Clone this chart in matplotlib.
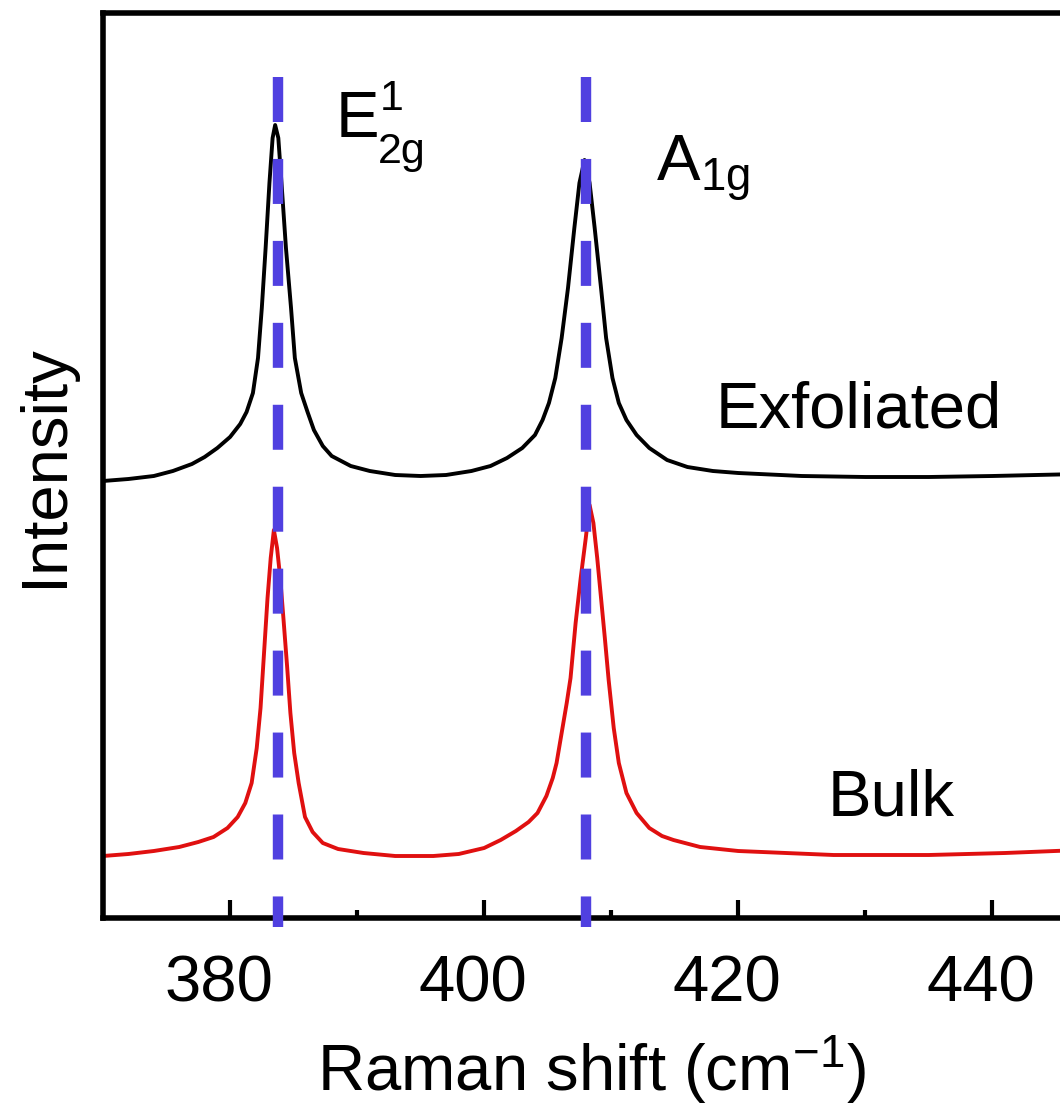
import matplotlib
matplotlib.use("Agg")
import matplotlib.pyplot as plt
import matplotlib.transforms as mtransforms

plt.rcParams["font.family"] = ["Liberation Sans", "DejaVu Sans"]
plt.rcParams["mathtext.fontset"] = "custom"
plt.rcParams["mathtext.rm"] = "Liberation Sans"
plt.rcParams["mathtext.default"] = "regular"
plt.rcParams["font.size"] = 47
plt.rcParams["lines.scale_dashes"] = False

# Exfoliated spectrum (black)
exf_shift = [370.0, 372.0, 374.0, 375.5, 377.0, 378.0, 379.0, 380.0, 380.8,
             381.3, 381.8, 382.2, 382.5, 382.8, 383.1, 383.35, 383.55, 383.8,
             384.05, 384.4, 384.8, 385.1, 385.6, 386.1, 386.6, 387.3, 388.0,
             389.5, 391.0, 393.0, 395.0, 397.0, 399.0, 400.5, 401.8, 403.0,
             404.0, 404.6, 405.1, 405.6, 406.1, 406.6, 407.1, 407.5, 407.9,
             408.3, 408.7, 409.2, 409.6, 410.1, 410.6, 411.2, 412.0, 413.0,
             414.4, 416.0, 418.0, 420.0, 425.0, 430.0, 435.0, 440.0, 446.9]
exf_int = [437, 439, 442, 447, 454, 461, 470, 481, 494,
           506, 525, 560, 610, 670, 735, 780, 793, 780,
           735, 670, 610, 560, 525, 506, 488, 472, 462,
           452, 447, 443, 442, 443, 447, 452, 460, 470,
           483, 498, 515, 540, 580, 630, 690, 735, 758,
           735, 690, 630, 580, 540, 515, 498, 483, 470,
           458, 451, 447, 445, 442, 441, 441, 442, 444]

# Bulk spectrum (red)
bulk_shift = [370.0, 372.0, 374.0, 376.0, 377.5, 378.7, 379.8, 380.6, 381.2,
              381.7, 382.1, 382.4, 382.7, 382.95, 383.2, 383.45, 383.7, 383.95,
              384.2, 384.5, 384.75, 385.05, 385.4, 385.9, 386.5, 387.3, 388.5,
              390.5, 393.0, 396.0, 398.0, 400.0, 401.3, 402.5, 403.5, 404.2,
              404.9, 405.4, 405.7, 406.1, 406.5, 406.8, 407.2, 407.6, 408.0,
              408.3, 408.6, 408.9, 409.2, 409.5, 409.8, 410.2, 410.6, 411.2,
              412.0, 413.0, 414.0, 414.9, 417.0, 420.0, 427.5, 435.0, 441.0,
              446.9]
bulk_int = [62, 64, 67, 71, 76, 81, 90, 101, 115,
            135, 170, 210, 270, 320, 360, 388, 370, 340,
            300, 250, 205, 165, 135, 101, 86, 75, 69,
            65, 62, 62, 64, 70, 78, 87, 96, 105,
            122, 140, 155, 185, 215, 240, 295, 340, 380,
            413, 395, 360, 320, 280, 238, 190, 155, 125,
            105, 90, 82, 78, 71, 67, 63, 63, 65,
            68]

# Phonon mode positions (dashed guides)
mode_pos = [383.8, 408.0]

W, H = 1060, 1105
fig = plt.figure(figsize=(W / 100, H / 100), dpi=100)
ax = fig.add_axes([103 / W, 1 - 918 / H, (1080 - 103) / W, (918 - 13) / H])

ax.plot(exf_shift, exf_int, color="black", linewidth=2.8, zorder=2)
ax.plot(bulk_shift, bulk_int, color="#e01010", linewidth=2.8, zorder=2)

trans = mtransforms.blended_transform_factory(ax.transData, ax.transAxes)
for x in mode_pos:
    ax.plot([x, x], [0.929, -0.01], transform=trans, color="#5040e0",
            linewidth=7.5, dashes=(32.4, 26.6), dash_capstyle="butt",
            clip_on=False, zorder=3)

# mode labels: E with stacked super/subscript, A with subscript
ax.text(388.3, 781, "E", ha="left", va="baseline")
ax.text(391.8, 808, "1", ha="left", va="baseline", fontsize=31)
ax.text(391.6, 755, "2g", ha="left", va="baseline", fontsize=31)
ax.text(413.5, 736, r"A$_{1g}$", ha="left", va="baseline")

ax.text(429.5, 490, "Exfoliated", ha="center", va="baseline")
ax.text(432.0, 103, "Bulk", ha="center", va="baseline")

ax.set_xlim(370, 446.9)
ax.set_ylim(0, 905)
ax.set_xticks([380, 400, 420, 440])
ax.set_xticks([390, 410, 430], minor=True)
ax.set_yticks([])
ax.tick_params(axis="x", which="major", direction="in", length=13, width=3, pad=26)
ax.tick_params(axis="x", which="minor", direction="in", length=6, width=3)
shift = mtransforms.ScaledTranslation(-11 / 100, 0, fig.dpi_scale_trans)
for lbl in ax.get_xticklabels():
    lbl.set_transform(lbl.get_transform() + shift)
for s in ax.spines.values():
    s.set_linewidth(4)

ax.set_xlabel(r"Raman shift (cm$^{-1}$)", labelpad=14)
ax.set_ylabel("Intensity", labelpad=20)

fig.savefig("out.png", dpi=100)
